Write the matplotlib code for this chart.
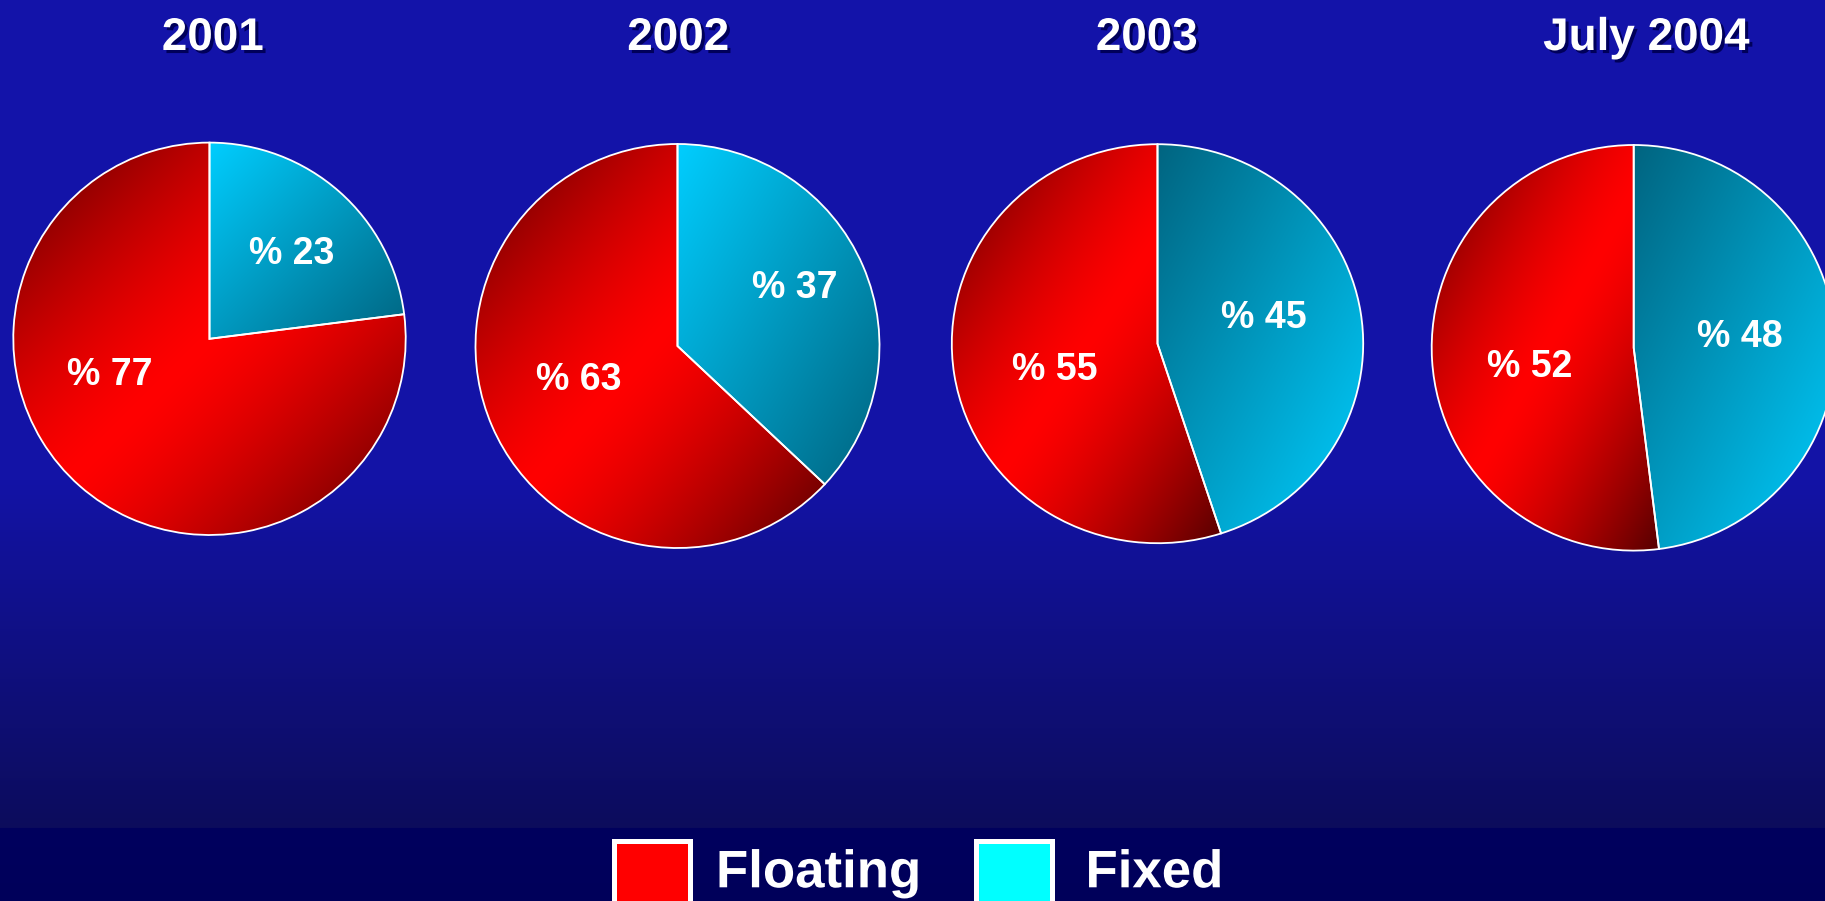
import numpy as np
import matplotlib
matplotlib.use('Agg')
import matplotlib.pyplot as plt
from matplotlib.patches import Rectangle
import matplotlib.patheffects as pe

# ---------------- data ----------------
periods = ['2001', '2002', '2003', 'July 2004']
floating = [77, 63, 55, 52]
fixed = [23, 37, 45, 48]
series_names = ['Floating', 'Fixed']

# ---------------- layout / style ----------------
W, H = 1825, 901
plt.rcParams['font.family'] = ['Liberation Sans', 'DejaVu Sans']

# pie geometry in pixels: centre x, centre y (from top), radius x, radius y
pie_geom = [(209.5, 338.8, 196.2, 196.2),
            (677.5, 346.0, 202.0, 202.0),
            (1157.5, 343.7, 205.7, 199.5),
            (1633.7, 347.8, 202.0, 202.8)]
# label anchors (pie data units, baseline) for fixed / floating
fixed_lbl = [(0.418, 0.381), (0.579, 0.238), (0.518, 0.079), (0.527, 0.005)]
float_lbl = [(-0.510, -0.235), (-0.488, -0.218), (-0.501, -0.182), (-0.513, -0.145)]
title_x = [213, 678.5, 1147, 1646.7]
cyan_reverse = [False, False, True, True]

RED_B = np.array([255, 0, 0]) / 255
RED_D = np.array([85, 0, 0]) / 255
CY_B = np.array([0, 206, 255]) / 255
CY_D = np.array([0, 100, 128]) / 255

fig = plt.figure(figsize=(W / 100, H / 100), dpi=100)

# background gradient
bg = fig.add_axes([0, 0, 1, 1], zorder=-10)
bg.set_axis_off()
rows = np.arange(H)
sy = [0, 480, 827, 828, 901]
sr = [20, 19, 12, 0, 0]
sg = [20, 19, 12, 0, 0]
sb = [170, 166, 92, 94, 90]
col = np.stack([np.interp(rows, sy, sr), np.interp(rows, sy, sg), np.interp(rows, sy, sb)], axis=1) / 255
img = np.repeat(col[:, None, :], 4, axis=1)
bg.imshow(img, extent=[0, W, H, 0], aspect='auto', interpolation='bilinear')
bg.set_xlim(0, W)
bg.set_ylim(H, 0)


def gradient(kind, reverse, n=256):
    xs = np.linspace(-0.5, 0.5, n)
    ys = np.linspace(0.5, -0.5, n)
    X, Y = np.meshgrid(xs, ys)
    t = X - Y  # -1 at top-left, +1 at bottom-right
    if kind == 'red':
        a = (np.clip(np.abs(t), 0, 1) ** 1.4)[..., None]
        return RED_B * (1 - a) + RED_D * a
    s = ((t + 1) / 2)
    if reverse:
        s = 1 - s
    s = s[..., None]
    return CY_B * (1 - s) + CY_D * s


shadow = [pe.withSimplePatchShadow(offset=(2.2, -2.2), shadow_rgbFace='#00005a', alpha=1.0)]
pad = 1.03
for i, (cx, cy, rx, ry) in enumerate(pie_geom):
    ax = fig.add_axes([(cx - rx * pad) / W, 1 - (cy + ry * pad) / H,
                       2 * rx * pad / W, 2 * ry * pad / H])
    wedges, _ = ax.pie([fixed[i], floating[i]], colors=['#00ccff', '#ff0000'],
                       startangle=90, counterclock=False,
                       wedgeprops=dict(edgecolor='white', linewidth=1.3))
    for w, kind in zip(wedges, ['cyan', 'red']):
        ext = w.get_path().get_extents(w.get_patch_transform())
        im = ax.imshow(gradient(kind, cyan_reverse[i]),
                       extent=(ext.x0, ext.x1, ext.y0, ext.y1), origin='upper',
                       aspect='auto', interpolation='bilinear', zorder=1)
        im.set_clip_path(w)
        w.set_facecolor('none')
        w.set_zorder(2)
    ax.set_aspect('auto')
    ax.set_xlim(-pad, pad)
    ax.set_ylim(-pad, pad)
    ax.set_axis_off()
    ax.text(*fixed_lbl[i], f'% {fixed[i]}', ha='center', va='baseline',
            color='white', fontsize=27, fontweight='bold', zorder=5)
    ax.text(*float_lbl[i], f'% {floating[i]}', ha='center', va='baseline',
            color='white', fontsize=27, fontweight='bold', zorder=5)
    fig.text(title_x[i] / W, 1 - 50 / H, periods[i], ha='center', va='baseline',
             color='white', fontsize=33, fontweight='bold', path_effects=shadow)

# legend
leg_boxes = [(613.5, '#ff0000', 716.0), (975.8, '#00ffff', 1085.5)]
for (bx, colr, tx), name in zip(leg_boxes, series_names):
    fig.add_artist(Rectangle((bx / W, (H - 840.5 - 76) / H), 76 / W, 76 / H,
                             transform=fig.transFigure, facecolor=colr,
                             edgecolor='white', linewidth=3.6))
    fig.text(tx / W, 1 - 887.3 / H, name, ha='left', va='baseline', color='white',
             fontsize=38, fontweight='bold', path_effects=shadow)

fig.savefig('out.png', dpi=100)
